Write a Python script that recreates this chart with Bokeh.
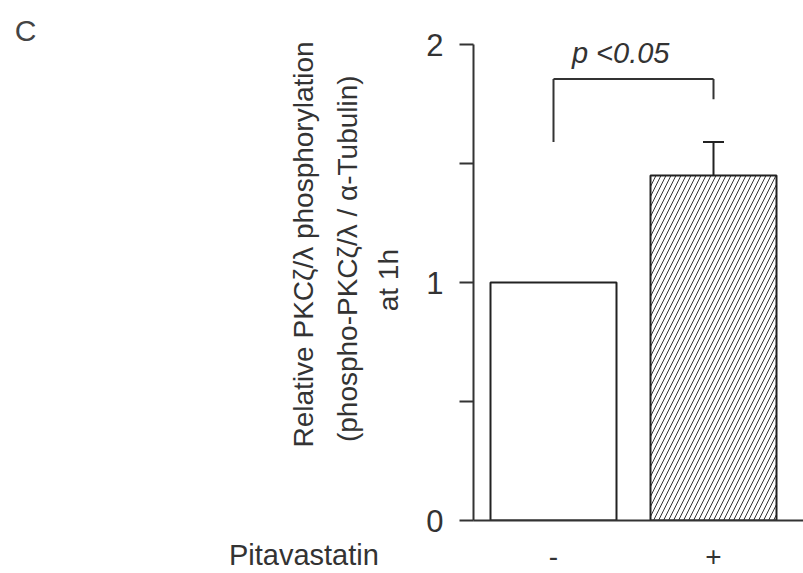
import math
from bokeh.plotting import figure
from bokeh.models import (Range1d, FixedTicker, Label, Whisker, TeeHead,
                          ColumnDataSource)
from bokeh.embed import file_html
from bokeh.resources import INLINE

# ---- data ----
categories = ["-", "+"]
x_pos = [1, 2]
means = [1.0, 1.45]
errors = [0.0, 0.14]
hatches = [" ", "/"]
y_major_ticks = [0, 1, 2]
y_minor_ticks = [0.5, 1.5]
# significance bracket: left/right leg bottoms, top level
bracket_top = 1.855
bracket_left_bottom = 1.59
bracket_right_bottom = 1.77
sig_text = "p <0.05"

FONT = "Liberation Sans"
TXT = "#333333"

p = figure(width=803, height=573, output_backend="svg", toolbar_location=None,
           x_range=Range1d(0.5, 2.5625), y_range=Range1d(0, 2),
           min_border_left=473, min_border_right=0, min_border_top=44,
           min_border_bottom=53)
p.outline_line_color = None
p.grid.visible = False
p.background_fill_color = "white"

src = ColumnDataSource(dict(x=x_pos, top=means, hatch=hatches))
p.vbar(x="x", top="top", bottom=0, width=0.7875, source=src,
       fill_color="white", line_color="#222222", line_width=2,
       hatch_pattern="hatch", hatch_color="#333333", hatch_scale=10,
       hatch_weight=1)

err_src = ColumnDataSource(dict(x=x_pos[1:], lower=means[1:],
                                upper=[m + e for m, e in zip(means[1:], errors[1:])]))
w = Whisker(base="x", lower="lower", upper="upper", source=err_src,
            line_color="#222222", line_width=2,
            upper_head=TeeHead(size=21, line_color="#222222", line_width=2),
            lower_head=None)
p.add_layout(w)

# bracket
p.segment(x0=[x_pos[0], x_pos[0], x_pos[1]], x1=[x_pos[1], x_pos[0], x_pos[1]],
          y0=[bracket_top, bracket_top, bracket_top],
          y1=[bracket_top, bracket_left_bottom, bracket_right_bottom],
          line_color="#333333", line_width=2)

# axes
yax = p.yaxis[0]
yax.ticker = FixedTicker(ticks=y_major_ticks, minor_ticks=y_minor_ticks)
yax.major_tick_in = 0
yax.major_tick_out = 14
yax.minor_tick_in = 0
yax.minor_tick_out = 14
yax.major_tick_line_width = 2
yax.minor_tick_line_width = 2
yax.major_tick_line_color = "#333333"
yax.minor_tick_line_color = "#333333"
yax.axis_line_width = 2
yax.axis_line_color = "#333333"
yax.major_label_text_font = FONT
yax.major_label_text_font_size = "31px"
yax.major_label_text_color = TXT
yax.major_label_standoff = 16

xax = p.xaxis[0]
xax.ticker = FixedTicker(ticks=[])
xax.major_tick_line_color = None
xax.minor_tick_line_color = None
xax.axis_line_width = 2
xax.axis_line_color = "#333333"

# text annotations live in the (wide) left panel so they are not clipped
p.add_layout(Label(x=1.42, y=1.966, text=sig_text, text_font=FONT,
                   text_font_size="29px", text_font_style="italic",
                   text_color=TXT, text_align="center",
                   text_baseline="middle"), "left")

for xp, cat in zip(x_pos, categories):
    p.add_layout(Label(x=xp, y=-0.15, text=cat, text_font=FONT,
                       text_font_size="28px", text_color=TXT,
                       text_align="center", text_baseline="middle"), "left")
p.add_layout(Label(x=-0.56, y=-0.146, text="Pitavastatin", text_font=FONT,
                   text_font_size="29px", text_color=TXT,
                   text_align="center", text_baseline="middle"), "left")

ylabel_lines = ["Relative PKC\u03b6/\u03bb phosphorylation",
                "(phospho-PKC\u03b6/\u03bb / \u03b1-Tubulin)",
                "at 1h"]
ylabel_x = [-0.56, -0.29, -0.03]
ylabel_y = [1.16, 1.10, 1.01]
for t, lx, ly in zip(ylabel_lines, ylabel_x, ylabel_y):
    p.add_layout(Label(x=lx, y=ly, text=t, angle=math.pi / 2,
                       text_font=FONT, text_font_size="28px", text_color=TXT,
                       text_align="center", text_baseline="middle"), "left")

# panel letter
p.add_layout(Label(x=-2.3, y=2.059, text="C", text_font=FONT,
                   text_font_size="30px", text_color="#444444",
                   text_align="center", text_baseline="middle"), "left")

open("out.html", "w").write(file_html(p, INLINE))
